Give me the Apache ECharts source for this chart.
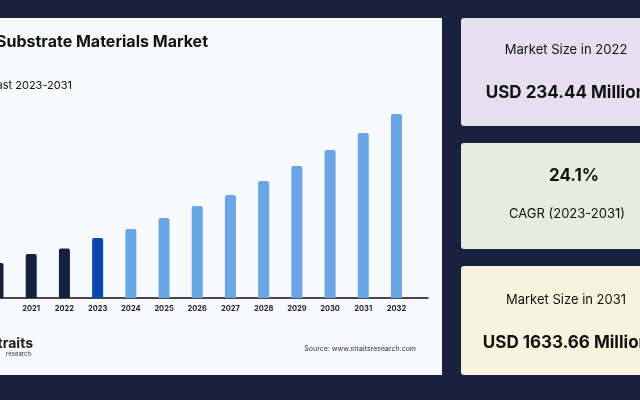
<!DOCTYPE html><html><head><meta charset="utf-8">
<script src="https://cdn.jsdelivr.net/npm/echarts@6/dist/echarts.min.js"></script>
<style>html,body{margin:0;background:#18223f}#c{width:640px;height:400px}</style></head><body><div id="c"></div>
<script>
const years=['2020','2021','2022','2023','2024','2025','2026','2027','2028','2029','2030','2031','2032'];
const values=[35,44,49.5,60,69,80,92,103,117,132,148,165,184];
const barColors=['#15203d','#15203d','#15203d','#0a47b0','#6aa6e6','#6aa6e6','#6aa6e6','#6aa6e6','#6aa6e6','#6aa6e6','#6aa6e6','#6aa6e6','#6aa6e6'];
const F='Inter, "Noto Sans", sans-serif';
const chart=echarts.init(document.getElementById('c'));
const card=(y,h,fill)=>({type:'rect',shape:{x:461,y:y,width:200,height:h,r:3},style:{fill:fill},z:0});
const txt=(x,y,t,size,weight,align,color)=>({type:'text',x:x,y:y,style:{text:t,font:(weight||'normal')+' '+size+'px '+F,fill:color||'#111',align:align||'center',verticalAlign:'middle'},z:5});
chart.setOption({
 backgroundColor:'#18223f',
 animation:false,
 grid:{left:0,width:428,top:98,height:200},
 xAxis:{type:'value',min:0.06,max:12.95,splitLine:{show:false},axisTick:{show:false},axisLine:{show:true,lineStyle:{color:'#111',width:1.5}},
   axisLabel:{customValues:years.map((y,i)=>i),formatter:v=>years[Math.round(v)],color:'#222',fontSize:7.5,fontWeight:'bold',fontFamily:F,margin:7}},
 yAxis:{type:'value',min:0,max:200,show:false,splitLine:{show:false}},
 series:[{type:'bar',barWidth:11,data:values.map((v,i)=>({value:[i,v],itemStyle:{color:barColors[i],borderRadius:[2,2,0,0]}})),z:3}],
 graphic:[
  {type:'rect',shape:{x:0,y:18,width:442,height:357},style:{fill:'#f8f9fc'},z:0},
  card(18,108,'#e5e0ee'),card(143,106,'#e3eedc'),card(266,109,'#f8f3dc'),
  txt(208,42,'Global Substrate Materials Market',16,'bold','right'),
  txt(72,86,'Market Size & Forecast 2023-2031',11,'normal','right'),
  txt(33,344,'straits',14,'bold','right','#222'),
  txt(31,354,'research',6,'normal','right','#333'),
  txt(416,349,'Source: www.straitsresearch.com',7,'normal','right','#333'),
  txt(566,50,'Market Size in 2022',13),
  txt(566,93,'USD 234.44 Million',17,'bold'),
  txt(574,176,'24.1%',17,'bold'),
  txt(567,214,'CAGR (2023-2031)',13),
  txt(566,300,'Market Size in 2031',13),
  txt(566,343,'USD 1633.66 Million',17,'bold')
 ]
});
</script></body></html>
